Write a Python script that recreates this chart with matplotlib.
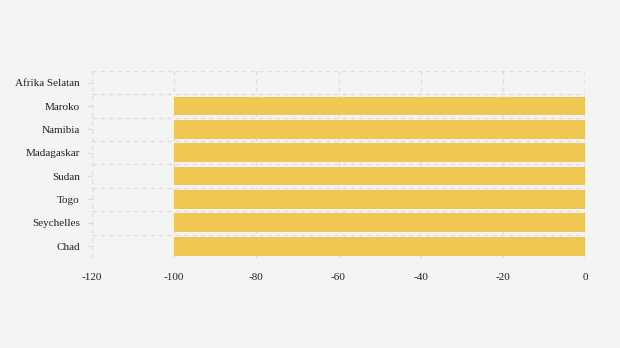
import matplotlib
matplotlib.use("Agg")
import matplotlib.pyplot as plt
import numpy as np

countries = ["Afrika Selatan", "Maroko", "Namibia", "Madagaskar",
             "Sudan", "Togo", "Seychelles", "Chad"]
values = [0, -100, -100, -100, -100, -100, -100, -100]
xticks = [-120, -100, -80, -60, -40, -20, 0]

plt.rcParams["font.family"] = ["Liberation Serif", "DejaVu Serif"]

fig = plt.figure(figsize=(6.2, 3.48), dpi=100, facecolor="#f4f4f4")
ax = fig.add_axes([0.148, 0.259, 0.796, 0.537])
ax.set_facecolor("#f4f4f4")

y = np.arange(len(countries))
ax.barh(y, values, height=0.8, color="#f0c752", zorder=2)

ax.set_xlim(-120, 0)
ax.set_ylim(len(countries) - 0.5, -0.5)
ax.set_yticks(y)
ax.set_yticklabels(countries, fontsize=8, color="#222222")
ax.set_xticks(xticks)
ax.set_xticklabels([str(v) for v in xticks], fontsize=8, color="#222222")

# grid: vertical at ticks, horizontal at category boundaries
for xv in xticks[:-1]:
    ax.axvline(xv, color="#dddddd", lw=1, ls=(0, (3, 3)), zorder=1)
ax.axvline(0, color="#aaaaaa", lw=1, ls=(0, (3, 3)), zorder=3)
for b in np.arange(-0.5, len(countries), 1.0):
    ax.axhline(b, color="#dddddd", lw=1, ls=(0, (3, 3)), zorder=3)

for s in ax.spines.values():
    s.set_visible(False)
ax.tick_params(axis="x", length=0, pad=11)
ax.tick_params(axis="y", length=3.6, color="#dddddd", pad=5)

fig.savefig("out.png", dpi=100, facecolor=fig.get_facecolor())
